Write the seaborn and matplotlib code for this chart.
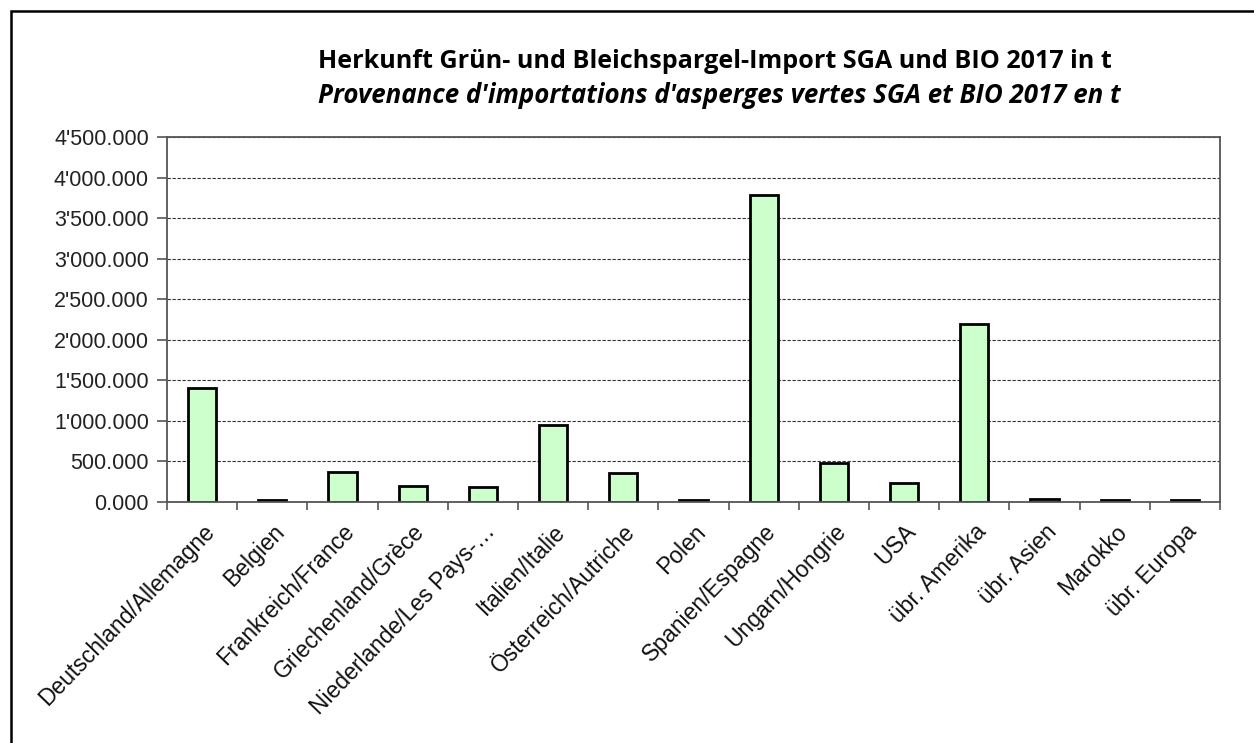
import pandas as pd
import seaborn as sns
import matplotlib.pyplot as plt
import matplotlib.patches as mpatches
from matplotlib.ticker import FuncFormatter, MultipleLocator

countries = ['Deutschland/Allemagne', 'Belgien', 'Frankreich/France', 'Griechenland/Grèce',
             'Niederlande/Les Pays-…', 'Italien/Italie', 'Österreich/Autriche', 'Polen',
             'Spanien/Espagne', 'Ungarn/Hongrie', 'USA', 'übr. Amerika', 'übr. Asien',
             'Marokko', 'übr. Europa']
tonnes = [1400, 20, 365, 195, 180, 955, 355, 20, 3790, 485, 228, 2200, 35, 20, 20]

title_de = 'Herkunft Grün- und Bleichspargel-Import SGA und BIO 2017 in t'
title_fr = "Provenance d'importations d'asperges vertes SGA et BIO 2017 en t"

df = pd.DataFrame({'land': countries, 't': tonnes})

sns.set_style('white')
plt.rcParams['font.family'] = ['Liberation Sans', 'DejaVu Sans']

fig = plt.figure(figsize=(12.54, 7.43), dpi=100)
ax = fig.add_axes([0.1332, 0.3244, 0.8397, 0.4912])

sns.barplot(data=df, x='land', y='t', color='#CCFFCC', edgecolor='black',
            linewidth=2, width=0.4, saturation=1, ax=ax)

ax.set_xlim(-0.5, len(countries) - 0.5)
ax.set_ylim(0, 4500)
ax.yaxis.set_major_locator(MultipleLocator(500))

def fmt(v, pos):
    return '{:,.3f}'.format(v).replace(',', "'")

ax.yaxis.set_major_formatter(FuncFormatter(fmt))
ax.yaxis.grid(True, linestyle=(0, (3, 1.5)), color='#333333', linewidth=0.8)
ax.set_axisbelow(True)

# ticks between categories, like the spreadsheet
ax.set_xticks([i - 0.5 for i in range(len(countries) + 1)], minor=False)
ax.set_xticklabels([])
ax.set_xticks(range(len(countries)), minor=True)
ax.set_xticklabels(countries, minor=True, rotation=46, ha='right',
                   rotation_mode='anchor', fontsize=16.5, color='#111111')
ax.tick_params(axis='x', which='minor', length=0, pad=13)
ax.tick_params(axis='x', which='major', direction='out', length=6, width=1.2,
               color='#555555', bottom=True)
ax.tick_params(axis='y', direction='out', length=7, width=1.2, color='#555555',
               left=True, labelsize=15.5, labelcolor='#222222', pad=6)

for s in ax.spines.values():
    s.set_color('#555555')
    s.set_linewidth(1.3)

ax.set_xlabel('')
ax.set_ylabel('')

fig.text(0.2536, 0.9166, title_de, fontsize=18.1, fontweight='bold',
         family=['Open Sans', 'DejaVu Sans'], ha='left', va='center', color='black')
fig.text(0.2536, 0.871, title_fr, fontsize=18.6, fontweight='bold', style='italic',
         family=['Open Sans', 'DejaVu Sans'], ha='left', va='center', color='black')

# outer chart frame, cut off at right and bottom
fig.patches.append(mpatches.Rectangle((11 / 1254, -1), 2, 2 - 11 / 743,
                                      transform=fig.transFigure, fill=False,
                                      edgecolor='black', linewidth=1.8, clip_on=False))

fig.savefig('out.png', dpi=100)
